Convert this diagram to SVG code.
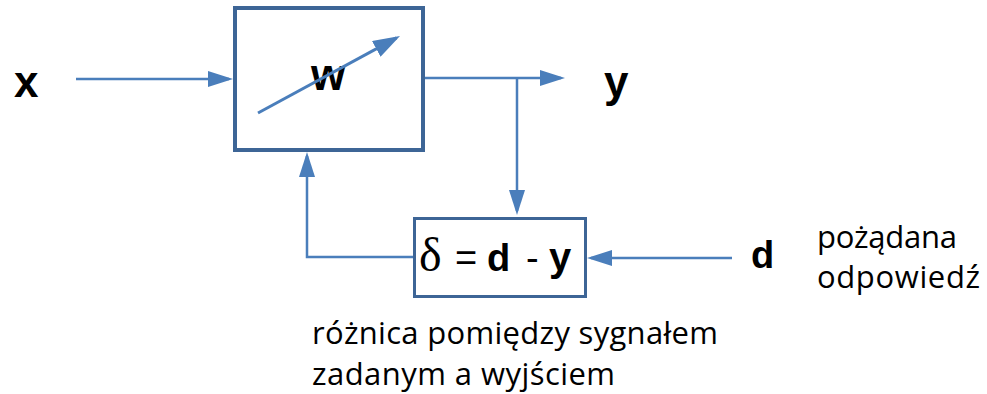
<svg xmlns="http://www.w3.org/2000/svg" width="987" height="394" viewBox="0 0 987 394">
<style>
.box{fill:#fff;stroke:#3d6596}
.ln{fill:none;stroke:#4a7ebb;stroke-width:2.5}
.sym{font-family:"Liberation Sans",Arial,sans-serif;font-weight:bold;fill:#000}
.lbl{font-family:"Open Sans","Noto Sans",sans-serif;font-size:31px;fill:#000}
</style>
<defs>
<marker id="ah" viewBox="0 0 25 16" refX="21" refY="8" markerWidth="25" markerHeight="16" markerUnits="userSpaceOnUse" orient="auto"><path d="M0,0 L25,8 L0,16 z" fill="#4a7ebb"/></marker>
<marker id="ah2" viewBox="0 0 27 18" refX="23" refY="9" markerWidth="27" markerHeight="18" markerUnits="userSpaceOnUse" orient="auto"><path d="M0,0 L27,9 L0,18 z" fill="#4a7ebb"/></marker>
</defs>
<g id="node-w">
<rect class="box" x="235" y="8" width="188" height="142" stroke-width="4"/>
<text class="sym" x="311" y="90" font-size="44">w</text>
<line x1="258" y1="113" x2="396.5" y2="37.9" stroke="#4a7ebb" stroke-width="3" marker-end="url(#ah2)"/>
</g>
<g id="node-delta">
<rect class="box" x="414.5" y="218.5" width="171" height="78" stroke-width="3"/>
<text y="271" fill="#000"><tspan x="419" font-family="Liberation Serif,'Times New Roman',serif" font-size="48">δ</tspan><tspan x="455" font-family="Liberation Sans,Arial,sans-serif" font-size="38">=</tspan><tspan x="487" font-family="Liberation Sans,Arial,sans-serif" font-weight="bold" font-size="38">d</tspan><tspan x="526" font-family="Liberation Sans,Arial,sans-serif" font-size="38">-</tspan><tspan x="549" font-family="Liberation Sans,Arial,sans-serif" font-weight="bold" font-size="40">y</tspan></text>
</g>
<g id="node-x"><text class="sym" x="14" y="97" font-size="44">x</text></g>
<g id="node-y"><text class="sym" x="604" y="97" font-size="44">y</text></g>
<g id="node-d"><text class="sym" x="751" y="268" font-size="38">d</text>
<text class="lbl" x="817" y="248" textLength="140" lengthAdjust="spacing">pożądana</text>
<text class="lbl" x="817" y="288" textLength="163" lengthAdjust="spacing">odpowiedź</text></g>
<g id="note"><text class="lbl" x="312" y="344" textLength="406" lengthAdjust="spacing">różnica pomiędzy sygnałem</text>
<text class="lbl" x="312" y="385" textLength="303" lengthAdjust="spacing">zadanym a wyjściem</text></g>
<g id="connectors">
<path class="ln" d="M76,79 H229" marker-end="url(#ah)"/>
<path class="ln" d="M425,78 H561" marker-end="url(#ah)"/>
<path class="ln" d="M517,78 V211" marker-end="url(#ah)"/>
<path class="ln" d="M413,257 H307 V156" marker-end="url(#ah)"/>
<path class="ln" d="M732,258 H591" marker-end="url(#ah)"/>
</g>
</svg>
